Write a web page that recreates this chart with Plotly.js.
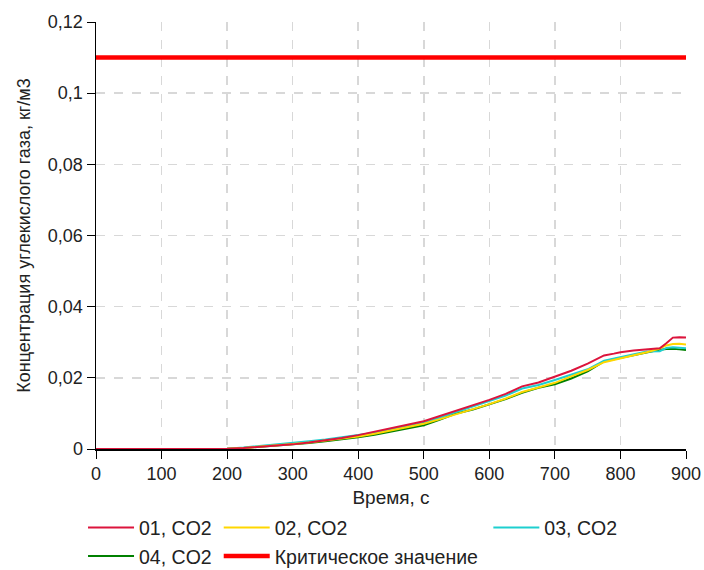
<!DOCTYPE html>
<html>
<head>
<meta charset="utf-8">
<script src="https://cdn.plot.ly/plotly-3.0.1.min.js"></script>
<style>html,body{margin:0;padding:0;background:#fff;}#chart{width:704px;height:570px;}</style>
</head>
<body>
<div id="chart"></div>
<script>
const time = [0, 50, 100, 150, 200, 225, 250, 275, 300, 325, 350, 375, 400, 425, 450, 475, 500, 525, 550, 575, 600, 625, 650, 675, 700, 725, 750, 775, 790, 800, 820, 840, 860, 870, 880, 890, 900];
const co2_01 = [0, 0, 0, 0, 0.0001, 0.0003, 0.0006, 0.0009, 0.0013, 0.0018, 0.0024, 0.0031, 0.0039, 0.0048, 0.0057, 0.0068, 0.0078, 0.0093, 0.0108, 0.0122, 0.0138, 0.0155, 0.0176, 0.0187, 0.0203, 0.0220, 0.0240, 0.0263, 0.0268, 0.0272, 0.0277, 0.0280, 0.0283, 0.0297, 0.0313, 0.0314, 0.0313];
const co2_02 = [0, 0, 0, 0, 0.0001, 0.0003, 0.0006, 0.0010, 0.0014, 0.0018, 0.0023, 0.0029, 0.0035, 0.0043, 0.0052, 0.0062, 0.0071, 0.0084, 0.0098, 0.0111, 0.0126, 0.0142, 0.0160, 0.0173, 0.0186, 0.0204, 0.0222, 0.0244, 0.0250, 0.0254, 0.0262, 0.0272, 0.0282, 0.0291, 0.0295, 0.0296, 0.0294];
const co2_03 = [0, 0, 0, 0, 0.0001, 0.0004, 0.0008, 0.0012, 0.0017, 0.0022, 0.0027, 0.0033, 0.0039, 0.0046, 0.0055, 0.0065, 0.0074, 0.0089, 0.0104, 0.0118, 0.0133, 0.0150, 0.0170, 0.0180, 0.0194, 0.0208, 0.0224, 0.0248, 0.0254, 0.0258, 0.0268, 0.0274, 0.0275, 0.0284, 0.0286, 0.0285, 0.0283];
const co2_04 = [0, 0, 0, 0, 0.0001, 0.0003, 0.0006, 0.0009, 0.0013, 0.0017, 0.0022, 0.0027, 0.0033, 0.0040, 0.0049, 0.0059, 0.0067, 0.0083, 0.0100, 0.0111, 0.0125, 0.0140, 0.0158, 0.0172, 0.0182, 0.0198, 0.0218, 0.0246, 0.0252, 0.0256, 0.0265, 0.0272, 0.0279, 0.0281, 0.0282, 0.0280, 0.0278];
const critTime = [0, 900];
const critValue = [0.11, 0.11];
const seriesNames = ["01, CO2", "02, CO2", "03, CO2", "04, CO2", "Критическое значение"];
const yTickVals = [0, 0.02, 0.04, 0.06, 0.08, 0.1, 0.12];
const yTickText = ["0", "0,02", "0,04", "0,06", "0,08", "0,1", "0,12"];
const xTickVals = [0, 100, 200, 300, 400, 500, 600, 700, 800, 900];

const font = {family: "Liberation Sans, Arial, sans-serif", size: 18, color: "#222"};
const legFont = {family: "Liberation Sans, Arial, sans-serif", size: 19.5, color: "#222"};

const traces = [
  {x: time, y: co2_04, name: seriesNames[3], mode: "lines", line: {color: "#008000", width: 2}, legend: "legend", legendgroup: "g4", legendrank: 2},
  {x: time, y: co2_03, name: seriesNames[2], mode: "lines", line: {color: "#1ecfcf", width: 2}, legend: "legend3", legendgroup: "g3"},
  {x: time, y: co2_02, name: seriesNames[1], mode: "lines", line: {color: "#ffd700", width: 2}, legend: "legend2", legendgroup: "g2", legendrank: 1},
  {x: time, y: co2_01, name: seriesNames[0], mode: "lines", line: {color: "#dc143c", width: 2}, legend: "legend", legendgroup: "g1", legendrank: 1},
  {x: critTime, y: critValue, name: seriesNames[4], mode: "lines", line: {color: "#ff0000", width: 4.5}, legend: "legend2", legendgroup: "g5", legendrank: 2}
];

const legBase = {orientation: "v", xanchor: "left", yanchor: "top", yref: "container", y: 0.108, font: legFont, bgcolor: "rgba(0,0,0,0)", itemwidth: 46, tracegroupgap: 0, traceorder: "grouped", itemclick: false};

const layout = {
  width: 704, height: 570,
  margin: {l: 96, r: 18, t: 22, b: 121},
  paper_bgcolor: "#fff", plot_bgcolor: "#fff",
  font: font,
  showlegend: true,
  xaxis: {
    range: [0, 900], tickvals: xTickVals, ticks: "outside", ticklen: 8, tickcolor: "#000",
    showline: true, linecolor: "#000", linewidth: 1.5, zeroline: false, automargin: false,
    showgrid: true, gridcolor: "#d8d8d8", griddash: "dash", gridwidth: 1.5,
    title: {text: "Время, с", font: {family: font.family, size: 19, color: "#222"}, standoff: 11}
  },
  yaxis: {
    range: [0, 0.12], tickvals: yTickVals, ticktext: yTickText, ticks: "outside", ticklen: 8, tickcolor: "#000",
    showline: true, linecolor: "#000", linewidth: 1.5, zeroline: false, automargin: false,
    showgrid: true, gridcolor: "#d8d8d8", griddash: "dash", gridwidth: 1.5,
    title: {text: "Концентрация углекислого газа, кг/м3", font: font, standoff: 12}
  },
  legend: Object.assign({}, legBase, {x: -0.022}),
  legend2: Object.assign({}, legBase, {x: 0.208}),
  legend3: Object.assign({}, legBase, {x: 0.665})
};

Plotly.newPlot("chart", traces, layout, {displayModeBar: false, staticPlot: true});
</script>
</body>
</html>
